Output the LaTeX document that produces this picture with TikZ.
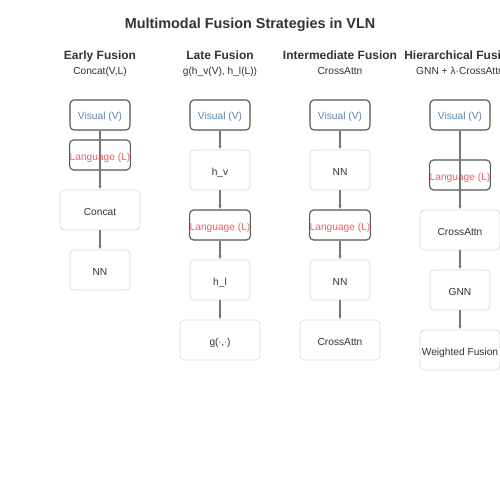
\documentclass[tikz,border=0pt]{standalone}
\usepackage{fontspec}
\setmainfont{Liberation Sans}
\usetikzlibrary{arrows.meta}
\definecolor{txt}{HTML}{333333}
\definecolor{vblue}{HTML}{5B84B1}
\definecolor{lred}{HTML}{E8616B}
\definecolor{dborder}{HTML}{555555}
\definecolor{lborder}{HTML}{DDDDDD}
\definecolor{arr}{HTML}{777777}
\tikzset{
  inbox/.style={draw=dborder, line width=1.1pt, rounded corners=4pt, fill=white,
    minimum width=60pt, minimum height=30pt, inner sep=0pt, text height=10pt, text depth=0pt,
    font=\fontsize{10.2}{12}\selectfont},
  vis/.style={inbox, text=vblue},
  lang/.style={inbox, text=lred},
  opbox/.style={draw=lborder, line width=0.9pt, rounded corners=4pt, fill=white,
    minimum height=40pt, inner sep=0pt, text height=10pt, text depth=0pt, text=txt,
    font=\fontsize{10.2}{12}\selectfont},
  small/.style={opbox, minimum width=60pt},
  wide/.style={opbox, minimum width=80pt},
  head/.style={text=txt, font=\fontsize{12}{14}\selectfont\bfseries, inner sep=0pt, anchor=base},
  sub/.style={text=txt, font=\fontsize{10.2}{12}\selectfont, inner sep=0pt, anchor=base},
  flow/.style={draw=arr, line width=1.1pt, -{Latex[length=4pt,width=3.5pt]}},
}
\begin{document}
\begin{tikzpicture}[x=1pt,y=-1pt]
\useasboundingbox (0,0) rectangle (500,500);
\clip (0,0) rectangle (500,500);
\fill[white] (0,0) rectangle (500,500);
\node[text=txt, font=\fontsize{14.4}{16}\selectfont\bfseries, inner sep=0pt, anchor=base] (title) at (250,29) {Multimodal Fusion Strategies in VLN};
% Early fusion
\node[head] (h1) at (100,60) {Early Fusion};
\node[sub] (s1) at (100,74.5) {Concat(V,L)};
\node[vis] (e1) at (100,115) {Visual (V)};
\node[lang] (e2) at (100,155) {Language (L)};
\node[wide] (e3) at (100,210) {Concat};
\node[small] (e4) at (100,270) {NN};
\draw[flow] (e1.south) -- (e3.north);
\draw[flow] (e3) -- (e4);
% Late fusion
\node[head] (h2) at (220,60) {Late Fusion};
\node[sub] (s2) at (220,74.5) {g(h\_v(V), h\_l(L))};
\node[vis] (l1) at (220,115) {Visual (V)};
\node[small] (l2) at (220,170) {h\_v};
\node[lang] (l3) at (220,225) {Language (L)};
\node[small] (l4) at (220,280) {h\_l};
\node[wide] (l5) at (220,340) {g($\cdot$,$\cdot$)};
\draw[flow] (l1) -- (l2);
\draw[flow] (l2) -- (l3);
\draw[flow] (l3) -- (l4);
\draw[flow] (l4) -- (l5);
% Intermediate fusion
\node[head] (h3) at (340,60) {Intermediate Fusion};
\node[sub] (s3) at (340,74.5) {CrossAttn};
\node[vis] (m1) at (340,115) {Visual (V)};
\node[small] (m2) at (340,170) {NN};
\node[lang] (m3) at (340,225) {Language (L)};
\node[small] (m4) at (340,280) {NN};
\node[wide] (m5) at (340,340) {CrossAttn};
\draw[flow] (m1) -- (m2);
\draw[flow] (m2) -- (m3);
\draw[flow] (m3) -- (m4);
\draw[flow] (m4) -- (m5);
% Hierarchical fusion
\node[head] (h4) at (460,60) {Hierarchical Fusion};
\node[sub] (s4) at (460,74.5) {GNN + λ·CrossAttn};
\node[vis] (r1) at (460,115) {Visual (V)};
\node[lang] (r2) at (460,175) {Language (L)};
\node[wide] (r3) at (460,230) {CrossAttn};
\node[small] (r4) at (460,290) {GNN};
\node[wide] (r5) at (460,350) {Weighted Fusion};
\draw[flow] (r1.south) -- (r3.north);
\draw[flow] (r3) -- (r4);
\draw[flow] (r4) -- (r5);
\end{tikzpicture}
\end{document}
